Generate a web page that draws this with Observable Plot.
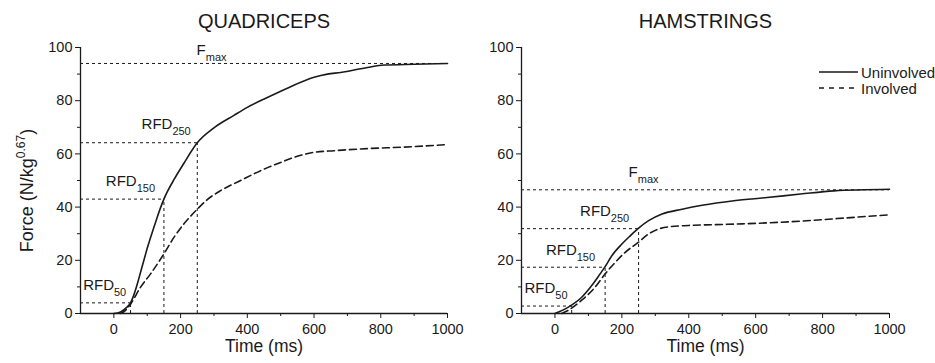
<!DOCTYPE html>
<html>
<head>
<meta charset="utf-8">
<script src="https://cdn.jsdelivr.net/npm/d3@7"></script>
<script src="https://cdn.jsdelivr.net/npm/@observablehq/plot@0.6"></script>
<style>
  body { margin: 0; background: #fff; font-family: Arial, "Liberation Sans", sans-serif; }
  #wrap { position: relative; width: 935px; height: 363px; }
  #left { position: absolute; left: 0; top: 0; }
  #right { position: absolute; left: 465px; top: 0; }
  #legend { position: absolute; left: 819px; top: 64px; font-size: 15px; color: #222; }
  #legend .row { display: flex; align-items: center; height: 16px; }
  #legend svg { margin-right: 2px; }
</style>
</head>
<body>
<div id="wrap">
  <div id="left"></div>
  <div id="right"></div>
  <div id="legend"></div>
</div>
<script>
// ---- Data ----
const panelTitles = ["QUADRICEPS", "HAMSTRINGS"];
const seriesNames = ["Uninvolved", "Involved"];
const xMajorTicks = [0, 200, 400, 600, 800, 1000];
const xMinorTicks = [100, 300, 500, 700, 900];
const yMajorTicks = [0, 20, 40, 60, 80, 100];
const yMinorTicks = [10, 30, 50, 70, 90];

// Quadriceps
const quadUninvolvedTime  = [0, 20, 40, 50, 60, 70, 80, 90, 100, 110, 120, 130, 140, 150, 160, 180, 210, 250, 300, 360, 400, 460, 520, 600, 640, 680, 760, 810, 900, 1000];
const quadUninvolvedForce = [0, 0.6, 2.5, 4, 7, 11, 15.5, 20, 24.5, 28.6, 32.4, 36.2, 39.8, 43, 45.7, 50.3, 56.5, 64.2, 69.8, 74.5, 77.5, 81.2, 84.7, 88.8, 90, 90.6, 92.5, 93.4, 93.7, 94];
const quadInvolvedTime  = [20, 35, 50, 80, 110, 150, 180, 210, 250, 280, 320, 380, 440, 500, 560, 600, 660, 760, 860, 1000];
const quadInvolvedForce = [0, 1.2, 3.5, 9.9, 14.9, 22.4, 28.6, 33.7, 39.2, 42.8, 46.2, 50, 53.7, 56.8, 59.5, 60.6, 61.2, 62, 62.5, 63.5];
const quadRefTime  = [1000, 250, 150, 50];
const quadRefForce = [94, 64.2, 43, 4];
const quadLabelText  = ["F|max", "RFD|250", "RFD|150", "RFD|50"];
const quadLabelTime  = [248, 83, -24, -92];
const quadLabelForce = [97, 69.4, 48, 8.75];

// Hamstrings
const hamUninvolvedTime  = [0, 40, 80, 110, 135, 150, 170, 200, 225, 250, 280, 320, 380, 440, 535, 634, 734, 834, 1000];
const hamUninvolvedForce = [0, 2.4, 6.1, 10.5, 14.9, 17.6, 21.7, 26.1, 29.2, 32.1, 34.9, 37.4, 39.2, 40.7, 42.4, 43.6, 44.9, 46.1, 46.7];
const hamInvolvedTime  = [20, 40, 80, 120, 150, 180, 210, 250, 280, 330, 400, 480, 560, 640, 734, 834, 1000];
const hamInvolvedForce = [0, 1.2, 5, 9.9, 14.9, 19.2, 23, 26.8, 29.9, 32.4, 33.1, 33.4, 33.7, 34.1, 34.7, 35.6, 37.1];
const hamRefTime  = [1000, 250, 150, 50];
const hamRefForce = [46.5, 31.9, 17.4, 2.8];
const hamLabelText  = ["F|max", "RFD|250", "RFD|150", "RFD|50"];
const hamLabelTime  = [220, 75, -27, -91];
const hamLabelForce = [51.5, 36.7, 22, 7.6];

const ink = "#1a1a1a";

function zip(ts, fs) { return ts.map((t, i) => ({t, f: fs[i]})); }

function panel(o) {
  const unin = zip(o.uT, o.uF);
  const inv = zip(o.iT, o.iF);
  const refs = zip(o.refT, o.refF);
  const labels = o.labT.map((t, i) => ({t, f: o.labF[i], text: o.labText[i]}));
  const marks = [
    Plot.ruleY(refs, {y: "f", x1: -100, x2: "t", stroke: ink, strokeWidth: 1, strokeDasharray: "3,3"}),
    Plot.ruleX(refs.filter(d => d.t < 1000), {x: "t", y1: 0, y2: "f", stroke: ink, strokeWidth: 1, strokeDasharray: "3,3"}),
    Plot.line(inv, {x: "t", y: "f", stroke: ink, strokeWidth: 1.6, strokeDasharray: "7,4", curve: "monotone-x"}),
    Plot.line(unin, {x: "t", y: "f", stroke: ink, strokeWidth: 1.6, curve: "monotone-x"}),
    Plot.ruleX([-100], {stroke: ink, strokeWidth: 1.3}),
    Plot.ruleY([0], {stroke: ink, strokeWidth: 1.3}),
    Plot.axisX({ticks: xMajorTicks, tickSize: 5, tickPadding: 5, fontSize: 14.5, tickFormat: "d", label: null}),
    Plot.axisX({ticks: xMinorTicks, tickSize: 3, tickFormat: () => "", label: null}),
    Plot.axisY({ticks: yMajorTicks, tickSize: 5, tickPadding: 3, fontSize: 14.5, tickFormat: "d", label: null}),
    Plot.axisY({ticks: yMinorTicks, tickSize: 3, tickFormat: () => "", label: null}),
    Plot.text(labels, {x: "t", y: "f", text: "text", textAnchor: "start", lineAnchor: "bottom", fontSize: 15, fill: ink}),
    Plot.text([o.title], {text: d => d, frameAnchor: "top", textAnchor: "middle", dy: -19.5, lineAnchor: "bottom", fontSize: 20, fill: ink}),
    Plot.text(["Time (ms)"], {text: d => d, frameAnchor: "bottom", textAnchor: "middle", dy: 38.5, lineAnchor: "bottom", fontSize: 17.5, fill: ink})
  ];
  if (o.yLabel) {
    marks.push(Plot.text([o.yLabel], {text: d => d, frameAnchor: "left", textAnchor: "middle", rotate: -90, dx: -48, dy: 10, lineAnchor: "bottom", fontSize: 18, fill: ink}));
  }
  const chart = Plot.plot({
    width: o.width,
    height: 363,
    marginTop: 47,
    marginBottom: 50,
    marginLeft: o.marginLeft,
    marginRight: o.marginRight,
    style: {color: ink, fontFamily: "Arial, 'Liberation Sans', sans-serif", background: "#fff"},
    x: {domain: [-100, 1000], label: null},
    y: {domain: [0, 100], label: null},
    marks
  });
  // sub/superscripts
  chart.querySelectorAll("text").forEach(t => {
    const s = t.textContent;
    if (s.includes("|")) {
      const [a, b] = s.split("|");
      t.textContent = "";
      const sel = d3.select(t);
      sel.append("tspan").text(a);
      sel.append("tspan").attr("font-size", 11).attr("dy", 6).text(b);
    } else if (s.includes("^")) {
      const [a, rest] = s.split("^");
      const sup = rest.replace(")", "");
      t.textContent = "";
      const sel = d3.select(t);
      sel.append("tspan").text(a);
      sel.append("tspan").attr("font-size", 12).attr("dy", -8).text(sup);
      sel.append("tspan").attr("dy", 8).text(")");
    }
  });
  return chart;
}

document.getElementById("left").appendChild(panel({
  title: panelTitles[0], width: 465, marginLeft: 80, marginRight: 18,
  uT: quadUninvolvedTime, uF: quadUninvolvedForce, iT: quadInvolvedTime, iF: quadInvolvedForce,
  refT: quadRefTime, refF: quadRefForce, labT: quadLabelTime, labF: quadLabelForce, labText: quadLabelText,
  yLabel: "Force (N/kg^0.67)"
}));
document.getElementById("right").appendChild(panel({
  title: panelTitles[1], width: 470, marginLeft: 56, marginRight: 46,
  uT: hamUninvolvedTime, uF: hamUninvolvedForce, iT: hamInvolvedTime, iF: hamInvolvedForce,
  refT: hamRefTime, refF: hamRefForce, labT: hamLabelTime, labF: hamLabelForce, labText: hamLabelText
}));

// legend
const legend = d3.select("#legend");
const dashes = [null, "5,5"];
seriesNames.forEach((name, i) => {
  const row = legend.append("div").attr("class", "row");
  const sv = row.append("svg").attr("width", 40).attr("height", 10);
  sv.append("line").attr("x1", 0).attr("x2", i === 0 ? 39 : 35).attr("y1", 5).attr("y2", 5)
    .attr("stroke", ink).attr("stroke-width", 1.6).attr("stroke-dasharray", dashes[i]);
  row.append("span").text(name);
});
</script>
</body>
</html>
